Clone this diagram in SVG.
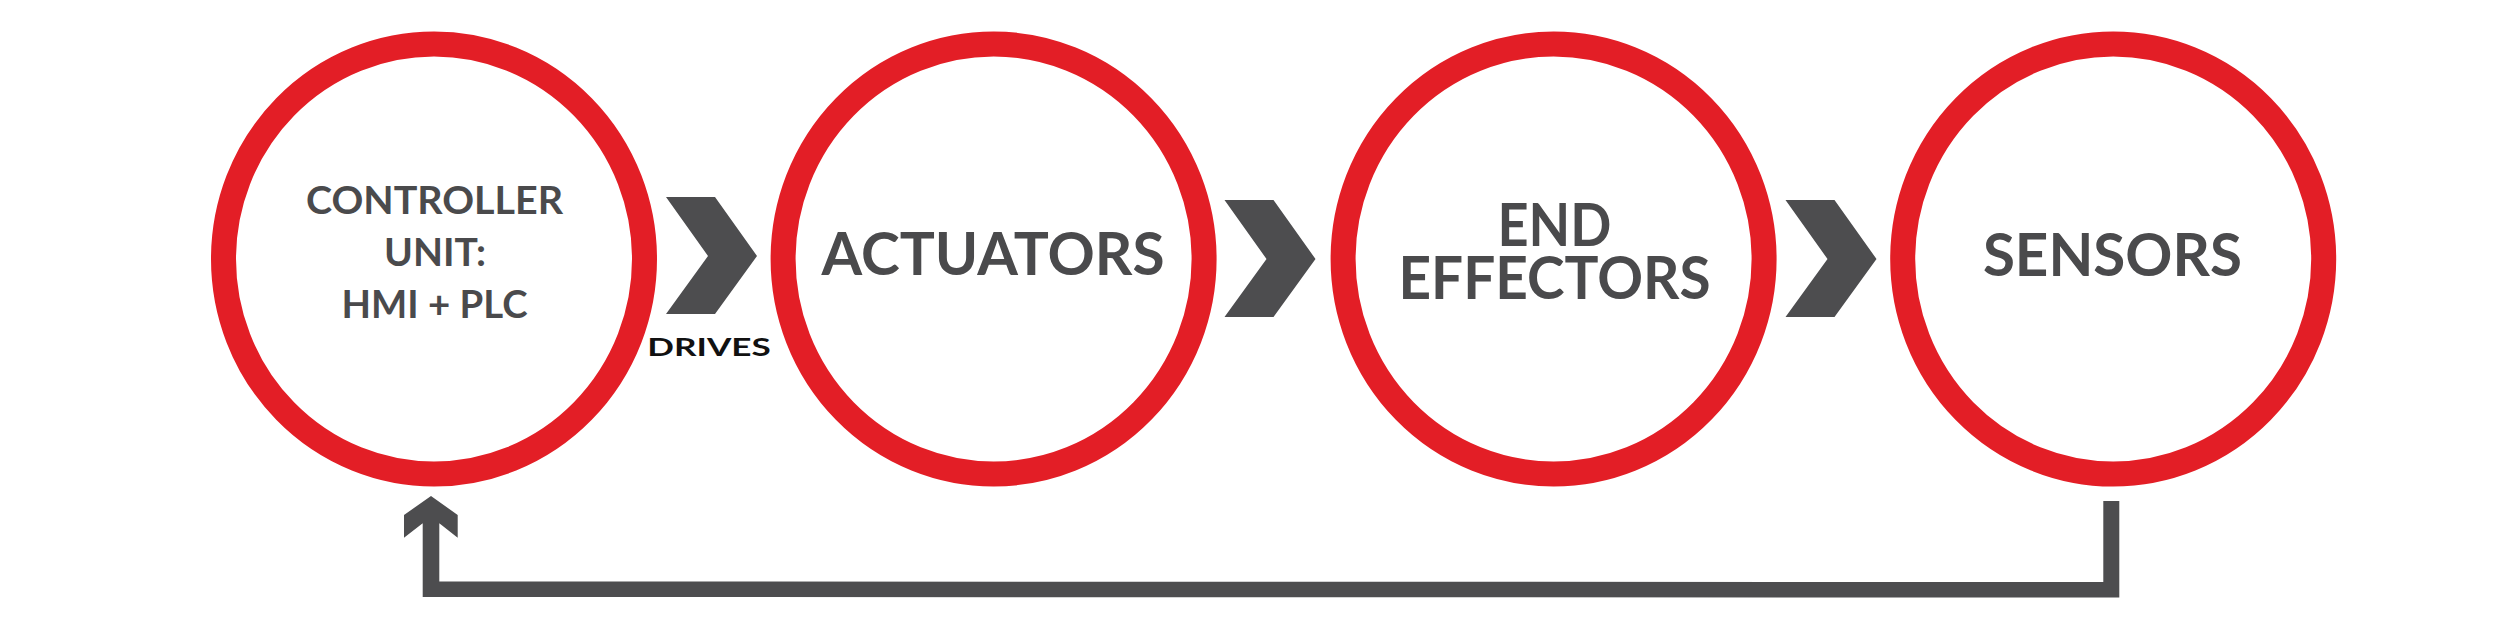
<svg xmlns="http://www.w3.org/2000/svg" width="2500" height="625" viewBox="0 0 2500 625">
<style>
.ring{fill:#ffffff;stroke:#e31e26;stroke-width:25}
.lbl{font-family:Lato,"Liberation Sans",sans-serif;font-weight:700;fill:#4a4a4c;text-anchor:middle}
.big{font-size:59px}
.small{font-size:38px}
.conn{fill:#4d4d4f}
.edge{font-family:Lato,"Liberation Sans",sans-serif;font-weight:700;font-size:25px;fill:#111111}
</style>
<rect width="2500" height="625" fill="#ffffff"/>
<g id="controller">
<ellipse class="ring" cx="434" cy="259" rx="210.5" ry="215"/>
<text class="lbl small" x="434.5" y="214" textLength="257" lengthAdjust="spacingAndGlyphs">CONTROLLER</text>
<text class="lbl small" x="435" y="266" textLength="102" lengthAdjust="spacingAndGlyphs">UNIT:</text>
<text class="lbl small" x="434.5" y="318" textLength="186" lengthAdjust="spacingAndGlyphs">HMI + PLC</text>
</g>
<g id="actuators">
<ellipse class="ring" cx="993.6" cy="259" rx="210.5" ry="215"/>
<text class="lbl big" x="993" y="275" textLength="343" lengthAdjust="spacingAndGlyphs">ACTUATORS</text>
</g>
<g id="end-effectors">
<ellipse class="ring" cx="1553.6" cy="259" rx="210.5" ry="215"/>
<text class="lbl big" x="1554.5" y="246" textLength="114" lengthAdjust="spacingAndGlyphs">END</text>
<text class="lbl big" x="1554.5" y="299" textLength="312" lengthAdjust="spacingAndGlyphs">EFFECTORS</text>
</g>
<g id="sensors">
<ellipse class="ring" cx="2113.2" cy="259" rx="210.5" ry="215"/>
<text class="lbl big" x="2112.4" y="276" textLength="259" lengthAdjust="spacingAndGlyphs">SENSORS</text>
</g>
<g id="connectors">
<polygon class="conn" points="666,197 715,197 757,256 715,314 666,314 708,256"/>
<text class="edge" x="647.3" y="355.7" textLength="123.5" lengthAdjust="spacingAndGlyphs">DRIVES</text>
<polygon class="conn" points="1224.5,200 1273.5,200 1315.5,259 1273.5,317 1224.5,317 1266.5,259"/>
<polygon class="conn" points="1785.5,200 1834.5,200 1876.5,259 1834.5,317 1785.5,317 1827.5,259"/>
<path class="conn" d="M431 496 L457.7 515 L457.7 537.7 L439.3 523.3 L439.3 581.5 L2103.3 582 L2103.3 501 L2119.3 501 L2119.3 597.5 L422.7 597 L422.7 523.3 L404 537.7 L404 515 Z"/>
</g>
</svg>
